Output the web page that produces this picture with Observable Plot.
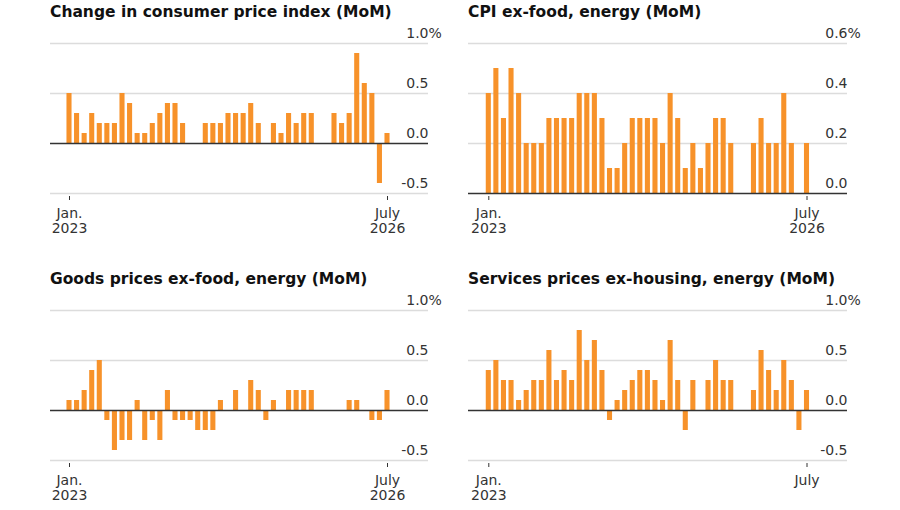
<!DOCTYPE html>
<html>
<head>
<meta charset="utf-8">
<script src="https://cdn.jsdelivr.net/npm/d3@7"></script>
<script src="https://cdn.jsdelivr.net/npm/@observablehq/plot@0.6"></script>
<style>
  html, body { margin: 0; padding: 0; background: #fff; }
  body { width: 900px; height: 510px; position: relative; overflow: hidden; font-family: "DejaVu Sans", sans-serif; }
  .panel { position: absolute; width: 450px; }
  .title { position: absolute; font-weight: bold; font-size: 15.5px; color: #111; white-space: nowrap; line-height: 20px; }
  .chart { position: absolute; left: 0; }
</style>
</head>
<body>
<div id="root"></div>
<script>
// Months Jan 2023 .. July 2026 (43 categories)
const months = d3.utcMonths(new Date(Date.UTC(2023, 0, 1)), new Date(Date.UTC(2026, 7, 1))).map(d3.utcFormat("%Y-%m"));

const xTickLabels = ["Jan.\n2023", "July\n2026"];
const xTickLabelsLast = ["Jan.\n2023", "July"];

// Panel titles
const titles = [
  "Change in consumer price index (MoM)",
  "CPI ex-food, energy (MoM)",
  "Goods prices ex-food, energy (MoM)",
  "Services prices ex-housing, energy (MoM)"
];

// Series values (percent, month over month); 0 = no bar shown
const cpiAll = [0.5,0.3,0.1,0.3,0.2,0.2,0.2,0.5,0.4,0.1,0.1,0.2,0.3,0.4,0.4,0.2,0,0,0.2,0.2,0.2,0.3,0.3,0.3,0.4,0.2,0,0.2,0.1,0.3,0.2,0.3,0.3,0,0,0.3,0.2,0.3,0.9,0.6,0.5,-0.4,0.1];
const cpiCore = [0.4,0.5,0.3,0.5,0.4,0.2,0.2,0.2,0.3,0.3,0.3,0.3,0.4,0.4,0.4,0.3,0.1,0.1,0.2,0.3,0.3,0.3,0.3,0.2,0.4,0.3,0.1,0.2,0.1,0.2,0.3,0.3,0.2,0,0,0.2,0.3,0.2,0.2,0.4,0.2,0,0.2];
const goodsCore = [0.1,0.1,0.2,0.4,0.5,-0.1,-0.4,-0.3,-0.3,0.1,-0.3,-0.1,-0.3,0.2,-0.1,-0.1,-0.1,-0.2,-0.2,-0.2,0.1,0,0.2,0,0.3,0.2,-0.1,0.1,0,0.2,0.2,0.2,0.2,0,0,0,0,0.1,0.1,0,-0.1,-0.1,0.2];
const servicesCore = [0.4,0.5,0.3,0.3,0.1,0.2,0.3,0.3,0.6,0.3,0.4,0.3,0.8,0.5,0.7,0.4,-0.1,0.1,0.2,0.3,0.4,0.4,0.3,0.1,0.7,0.3,-0.2,0.3,0,0.3,0.5,0.3,0.3,0,0,0.2,0.6,0.4,0.2,0.5,0.3,-0.2,0.2];

// Y tick values per panel
const yTicksWide = [-0.5, 0, 0.5, 1.0];
const yTicksCore = [0, 0.2, 0.4, 0.6];

const panels = [
  {title: titles[0], values: cpiAll, yTicks: yTicksWide, left: 0, top: 0, xlab: xTickLabels, side: "L"},
  {title: titles[1], values: cpiCore, yTicks: yTicksCore, left: 450, top: 0, xlab: xTickLabels, side: "R"},
  {title: titles[2], values: goodsCore, yTicks: yTicksWide, left: 0, top: 267, xlab: xTickLabels, side: "L"},
  {title: titles[3], values: servicesCore, yTicks: yTicksWide, left: 450, top: 267, xlab: xTickLabelsLast, side: "R"}
];

const fontFamily = '"DejaVu Sans", sans-serif';
const root = document.getElementById("root");

for (const p of panels) {
  const div = document.createElement("div");
  div.className = "panel";
  div.style.left = p.left + "px";
  div.style.top = p.top + "px";
  const t = document.createElement("div");
  t.className = "title";
  t.textContent = p.title;
  t.style.left = (p.side === "L" ? 50 : 18) + "px";
  t.style.top = "2px";
  div.appendChild(t);

  const data = p.values.map((v, i) => ({m: months[i], v}));
  const H = 243 - (p.top === 0 ? 28 : 25);
  const svgTop = 25;
  const marginLeft = p.side === "L" ? 50 : 18;
  const marginRight = p.side === "L" ? 22 : 53;
  const c0 = p.side === "L" ? 69 : 38.3;
  const c1 = p.side === "L" ? 387 : 356.5;
  const step = (c1 - c0) / 42;
  const yDom = [p.yTicks[0], p.yTicks[p.yTicks.length - 1]];
  const top = p.yTicks[p.yTicks.length - 1];

  const chart = Plot.plot({
    width: 450,
    height: H,
    marginTop: 18,
    marginBottom: H - 168,
    marginLeft,
    marginRight,
    style: {fontFamily, fontSize: "14px", color: "#333", background: "transparent", overflow: "visible"},
    x: {type: "band", domain: months, range: [c0 - step / 2, c1 + step / 2], paddingInner: 0.33, paddingOuter: 0.165, round: false, label: null},
    y: {domain: yDom, label: null},
    marks: [
      Plot.ruleY(p.yTicks.filter(d => d !== 0), {stroke: "#dcdcdc", strokeWidth: 1.5}),
      Plot.barY(data, {x: "m", y: "v", fill: "#f7922a"}),
      Plot.ruleY([0], {stroke: "#333", strokeWidth: 1.3}),
      Plot.axisY({anchor: "right", ticks: p.yTicks, tickSize: 0, tickPadding: 0, textAnchor: "end", lineAnchor: "bottom", dy: -6, fontSize: 14, fill: "#333", tickFormat: d => d.toFixed(1)}),
      Plot.text([top], {y: d => d, text: () => "%", frameAnchor: "right", textAnchor: "start", lineAnchor: "bottom", dy: -6, fontSize: 14, fill: "#333"}),
      Plot.axisX({ticks: [months[0], months[42]], tickSize: 4, tickPadding: 7, dy: 3, fontSize: 14, fill: "#333", stroke: "#333", lineHeight: 1.08, tickFormat: (d, i) => p.xlab[d === months[0] ? 0 : 1]})
    ]
  });
  chart.classList.add("chart");
  chart.style.top = svgTop + "px";
  div.appendChild(chart);
  root.appendChild(div);
}
</script>
</body>
</html>
